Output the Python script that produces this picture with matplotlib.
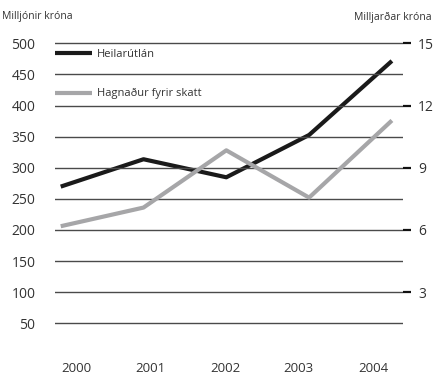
import matplotlib
matplotlib.use("Agg")
import matplotlib.pyplot as plt
from matplotlib.lines import Line2D

plt.rcParams['font.family'] = ['Open Sans', 'DejaVu Sans']

years = [2000, 2001, 2002, 2003, 2004]
year_labels = ["2000", "2001", "2002", "2003", "2004"]
# Hagnaður fyrir skatt, milljónir króna (left axis)
profit_mkr = [206, 236, 328, 252, 376]
# Heilarútlán, milljarðar króna (right axis)
loans_bkr = [8.09, 9.41, 8.54, 10.58, 14.15]

left_ticks = [50, 100, 150, 200, 250, 300, 350, 400, 450, 500]
right_ticks = [3, 6, 9, 12, 15]

W, H = 444, 378
fig = plt.figure(figsize=(W / 100, H / 100), dpi=100)

ax_l, ax_r, ax_t, ax_b = 55, 403, 30, 345
ax = fig.add_axes([ax_l / W, 1 - ax_b / H, (ax_r - ax_l) / W, (ax_b - ax_t) / H])
ax2 = ax.twinx()

ylo, yhi = 15.1, 521.4
scale = 0.03
ax.set_ylim(ylo, yhi)
ax2.set_ylim(ylo * scale, yhi * scale)
ax.set_xlim(1999.931, 2004.134)

grid_c = "#4a4a4a"
for v in left_ticks:
    ax.axhline(v, color=grid_c, lw=1.0, zorder=1)

ax2.plot(years, loans_bkr, color="#1a1a1a", lw=3.0, solid_capstyle="butt", zorder=3)
ax.plot(years, profit_mkr, color="#a6a6a8", lw=3.0, solid_capstyle="butt", zorder=2)
ax.set_zorder(ax2.get_zorder() + 1)
ax.patch.set_visible(False)

for a in (ax, ax2):
    for s in a.spines.values():
        s.set_visible(False)

txt_c = "#333333"
ax.set_yticks(left_ticks)
ax.set_yticklabels([str(v) for v in left_ticks])
ax.tick_params(axis="y", length=0, pad=14, labelsize=10, labelcolor=txt_c)

ax2.set_yticks(right_ticks)
ax2.set_yticklabels([str(v) for v in right_ticks])
ax2.tick_params(axis="y", length=6, width=1.6, color="#111111", pad=5,
                labelsize=10, labelcolor=txt_c, direction="out")

label_pos = [2000.193, 2001.078, 2001.984, 2002.866, 2003.772]
ax.set_xticks(label_pos)
ax.set_xticklabels(year_labels)
ax.tick_params(axis="x", length=0, pad=12, labelsize=9.5, labelcolor=txt_c)
ax2.tick_params(axis="x", length=0)

fig.text(2 / W, 1 - 17 / H, "Milljónir króna", fontsize=7.5, color=txt_c,
         ha="left", va="center")
fig.text(432 / W, 1 - 17 / H, "Milljarðar króna", fontsize=7.5, color=txt_c,
         ha="right", va="center")

handles = [Line2D([], [], color="#1a1a1a", lw=3.0, solid_capstyle="butt"),
           Line2D([], [], color="#a6a6a8", lw=3.0, solid_capstyle="butt")]
leg = ax.legend(handles, ["Heilarútlán", "Hagnaður fyrir skatt"],
                loc="upper left", bbox_to_anchor=(55 / W, 1 - 49 / H),
                bbox_transform=fig.transFigure, frameon=False, fontsize=8,
                borderpad=0, borderaxespad=0, handlelength=3.3,
                handletextpad=0.5, labelspacing=2.55)
for t in leg.get_texts():
    t.set_color(txt_c)

fig.savefig("out.png", dpi=100, facecolor="white")
